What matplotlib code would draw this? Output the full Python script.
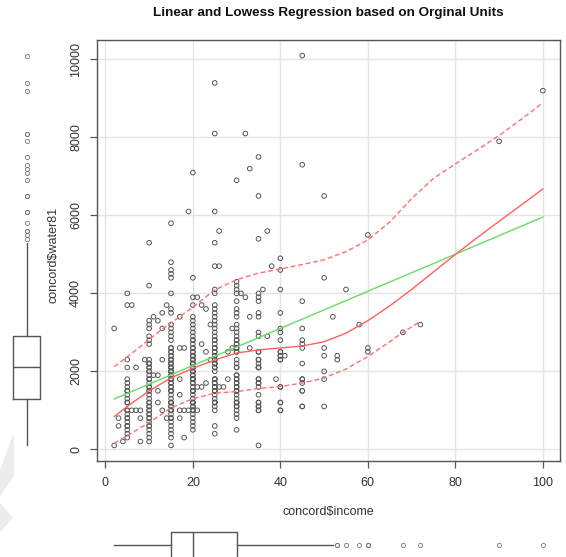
import numpy as np
import matplotlib
matplotlib.use("Agg")
import matplotlib.pyplot as plt
from matplotlib.patches import Polygon

plt.rcParams['font.family'] = ['Liberation Sans', 'DejaVu Sans']

# ---- data: (income, water81) pairs, one income group per line ----
groups = [
    (2, [3100, 100]),
    (3, [800, 600]),
    (4, [200]),
    (5, [4000, 3700, 2300, 2100, 1800, 1700, 1600, 1500, 1400, 1300, 1200, 1000, 900, 800, 700, 600, 500, 400, 300]),
    (6, [3700, 1000]),
    (7, [2100, 1000]),
    (8, [1000, 800, 200]),
    (9, [2300]),
    (10, [5300, 4200, 3300, 3200, 3100, 2900, 2800, 2700, 2300, 2200, 2100, 2000, 1900, 1800, 1700, 1600, 1500, 1400, 1300, 1200, 1100, 1000, 900, 800, 700, 600, 500, 400, 300, 200]),
    (11, [1900, 3400]),
    (12, [1900, 3300]),
    (13, [3500, 3100, 2300, 1000]),
    (14, [3700, 800]),
    (15, [5800, 4800, 4600, 4500, 4400, 4000, 3600, 3500, 3200, 3100, 3000, 2900, 2800, 2600, 2500, 2400, 2300, 2200, 2100, 2000, 1900, 1800, 1700, 1600, 1500, 1400, 1300, 1200, 1100, 1000, 900, 800, 700, 600, 500, 400, 300, 100]),
    (17, [3400, 2600, 1000, 800]),
    (18, [2600, 1000, 300]),
    (19, [6100, 1000]),
    (20, [7100, 4400, 3900, 3700, 3400, 3300, 3200, 3100, 3000, 2900, 2800, 2700, 2600, 2500, 2400, 2300, 2200, 2100, 2000, 1900, 1800, 1700, 1500, 1400, 1300, 1200, 1100, 1000, 900, 800, 700, 600, 500]),
    (21, [3900, 1600, 1000]),
    (22, [3700, 2700, 1600]),
    (23, [3600, 2500, 1700]),
    (24, [3200, 2300]),
    (25, [9400, 8100, 6100, 5300, 4700, 4100, 4000, 3700, 3600, 3500, 3400, 3300, 3200, 3100, 3000, 2900, 2800, 2700, 2600, 2500, 2400, 2300, 2200, 1800, 1700, 1600, 1500, 1400, 1300, 1200, 1100, 1000, 600, 400]),
    (26, [5600, 4700, 1600]),
    (27, [1600]),
    (28, [2500, 1800]),
    (29, [3100, 2600]),
    (30, [6900, 4300, 4200, 4100, 4000, 3800, 3600, 3500, 3400, 3200, 3100, 3000, 2900, 2800, 2700, 2600, 2500, 1900, 1800, 1700, 1600, 1500, 1400, 1300, 1200, 1100, 1000, 900, 800, 500]),
    (31, [4000]),
    (32, [8100, 3900]),
    (33, [7200, 3400, 2600]),
    (35, [7500, 6500, 5400, 4000, 3900, 3800, 3500, 3400, 3000, 2900, 2500, 2300, 2100, 1800, 1700, 1600, 1400, 1200, 1100, 1000, 100]),
    (36, [4100]),
    (37, [5600, 2900]),
    (38, [4700]),
    (39, [1800]),
    (40, [4900, 4600, 4100, 3500, 3100, 3000, 2800, 2500, 2400, 2300, 1600, 1200, 1000]),
    (41, [2400]),
    (45, [10100, 7300, 3800, 3100, 2800, 2700, 2600, 2200, 1800, 1700, 1500, 1100]),
    (50, [6500, 4400, 2600, 2400, 2000, 1800, 1100]),
    (52, [3400]),
    (53, [2400, 2300]),
    (55, [4100]),
    (58, [3200]),
    (60, [5500, 2600, 2500]),
    (68, [3000]),
    (72, [3200]),
    (90, [7900]),
    (100, [9200]),
]
# overlapping (repeated) households hidden inside the dense columns
repeats = [
    (5, [1000, 1200, 1500, 800, 600]),
    (10, [800, 1000, 1200, 2100, 2200, 1500, 1600, 1800, 2000, 2200, 600, 900, 1100]),
    (12, [1200, 1500]),
    (15, [2100, 2300, 1000, 1100, 1200, 2200, 2300, 1500, 1600, 1700, 1800, 1900, 2000, 2100, 2200, 2400, 2600, 800, 1000, 1200, 1500, 1800, 2000, 2500]),
    (17, [1400, 1800]),
    (20, [2100, 2400, 1000, 1100, 1200, 2100, 2300, 1500, 1600, 1700, 1800, 1900, 2000, 2100, 2200, 2300, 2400, 2500, 2600, 2800, 1000, 1200, 1500, 1800, 2000, 2200]),
    (25, [2100, 2500, 1200, 2100, 2200, 1500, 1600, 1700, 1800, 2000, 2200, 2300, 2400, 2600, 2800, 1200, 1500, 1800]),
    (30, [2100, 2300, 1100, 1200, 2100, 2200, 1500, 1600, 1700, 1800, 1900, 2500, 2600, 2700, 2800, 1200, 1500]),
    (35, [1000, 1100, 1200, 2100, 2200, 1700, 1800, 2100, 2300, 2500]),
    (40, [1000, 1200, 1600, 2300, 2400, 2500]),
    (45, [1100, 1500, 1800]),
]
income = []
water81 = []
for inc, ws in groups + repeats:
    income += [inc] * len(ws)
    water81 += ws

# fitted lines
lin_coef = [1197, 47.6]   # intercept, slope
lowess_x = [2, 5, 10, 15, 20, 25, 30, 35, 40, 45, 50, 55, 60, 65, 70, 75, 80, 85, 90, 95, 100]
lowess_y = [840, 1100, 1500, 1830, 2080, 2290, 2470, 2550, 2600, 2650, 2760, 2980, 3300, 3680, 4100, 4550, 5000, 5430, 5850, 6260, 6680]
upper_x = [2, 6.5, 11.8, 15, 20, 25, 30, 35, 40, 45, 50, 55, 60, 65, 70, 75, 80, 85, 90, 95, 100]
upper_y = [2120, 2500, 2980, 3240, 3650, 4090, 4350, 4520, 4625, 4740, 4860, 5070, 5370, 5830, 6430, 6950, 7320, 7680, 8050, 8460, 8890]
lower_x = [2, 6.5, 10.3, 15, 20, 25, 30, 35, 40, 45, 50, 55, 60, 65, 68, 72]
lower_y = [150, 450, 710, 1060, 1300, 1440, 1480, 1560, 1610, 1700, 1830, 2060, 2380, 2760, 3000, 3280]

x_ticks = [0, 20, 40, 60, 80, 100]
y_ticks = [0, 2000, 4000, 6000, 8000, 10000]

W, H = 566, 557
fig = plt.figure(figsize=(W / 100, H / 100), dpi=100)

L, R, T, B = 97, 560, 40, 461
ax = fig.add_axes([L / W, 1 - B / H, (R - L) / W, (B - T) / H])
xlim = (-1.92, 103.92)
ylim = (-300, 10500)
ax.set_xlim(*xlim)
ax.set_ylim(*ylim)

ax.set_xticks(x_ticks)
ax.set_yticks(y_ticks)
ax.set_yticklabels([str(v) for v in y_ticks], rotation=90, va='center')
ax.grid(True, color='#e4e4e4', lw=1.0)
ax.set_axisbelow(True)
for s in ax.spines.values():
    s.set_color('#555555')
    s.set_linewidth(1.0)
ax.tick_params(axis='both', length=4.8, width=0.9, color='#555555', labelsize=9, labelcolor='#333333')
ax.tick_params(axis='x', pad=7)
ax.tick_params(axis='y', pad=6)

ax.scatter(income, water81, s=11, facecolors='none', edgecolors='#555555', linewidths=0.7, zorder=3)

xs = np.array([min(income), max(income)])
ax.plot(xs, lin_coef[0] + lin_coef[1] * xs, color='#66dd66', lw=1.0, zorder=4)
ax.plot(lowess_x, lowess_y, color='#ff5f5f', lw=1.0, zorder=4)
ax.plot(upper_x, upper_y, color='#ff7070', lw=1.0, ls=(0, (3.5, 2)), zorder=4)
ax.plot(lower_x, lower_y, color='#ff7070', lw=1.0, ls=(0, (3.5, 2)), zorder=4)

fig.text(328 / W, 1 - 13 / H, 'Linear and Lowess Regression based on Orginal Units',
         ha='center', va='center', fontsize=9.7, fontweight='bold', color='#111111')
fig.text(328 / W, 1 - 512 / H, 'concord$income', ha='center', va='center', fontsize=9, color='#333333')
fig.text(54 / W, 1 - 255 / H, 'concord$water81', ha='center', va='center', rotation=90, fontsize=9, color='#333333')

bp_style = dict(showcaps=False,
                medianprops=dict(color='#555555', lw=1.0),
                boxprops=dict(color='#555555', lw=1.0),
                whiskerprops=dict(color='#555555', lw=1.0),
                flierprops=dict(marker='o', markersize=3, markerfacecolor='none',
                                markeredgecolor='#777777', markeredgewidth=0.6))

# marginal boxplot for water81 (left)
axl = fig.add_axes([0, 1 - B / H, 55 / W, (B - T) / H])
axl.set_ylim(*ylim)
axl.set_xlim(0, 55)
axl.boxplot(water81, positions=[26.5], widths=27, vert=True, **bp_style)
axl.axis('off')

# marginal boxplot for income (bottom)
axb = fig.add_axes([L / W, 0, (R - L) / W, 60 / H])
axb.set_xlim(*xlim)
axb.set_ylim(0, 60)
axb.boxplot(income, positions=[12], widths=26, vert=False, **bp_style)
axb.axis('off')

# light grey watermark shapes at lower left
fig.patches.append(Polygon([(0 / W, 1 - 470 / H), (14 / W, 1 - 432 / H), (14 / W, 1 - 475 / H), (0 / W, 1 - 497 / H)],
                           closed=True, transform=fig.transFigure, facecolor='#ececec', edgecolor='none'))
fig.patches.append(Polygon([(0 / W, 1 - 503 / H), (13 / W, 1 - 518 / H), (0 / W, 1 - 532 / H)],
                           closed=True, transform=fig.transFigure, facecolor='#ececec', edgecolor='none'))

fig.savefig('out.png', dpi=100)
